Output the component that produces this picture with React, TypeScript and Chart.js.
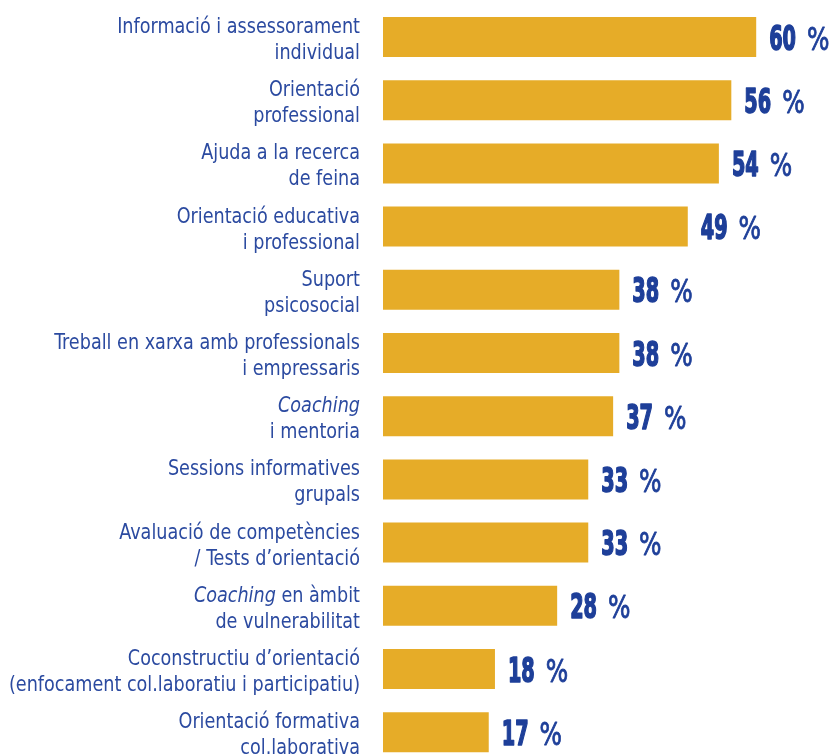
import { useEffect, useRef } from "react";
import { Chart, registerables } from "chart.js";

Chart.register(...registerables);

// Category labels (top to bottom); text between underscores is italic
const categories: string[][] = [
  ["Informació i assessorament", "individual"],
  ["Orientació", "professional"],
  ["Ajuda a la recerca", "de feina"],
  ["Orientació educativa", "i professional"],
  ["Suport", "psicosocial"],
  ["Treball en xarxa amb professionals", "i empressaris"],
  ["_Coaching_", "i mentoria"],
  ["Sessions informatives", "grupals"],
  ["Avaluació de competències", "/ Tests d’orientació"],
  ["_Coaching_ en àmbit", "de vulnerabilitat"],
  ["Coconstructiu d’orientació", "(enfocament col.laboratiu i participatiu)"],
  ["Orientació formativa", "col.laborativa"],
];

const values: number[] = [60, 56, 54, 49, 38, 38, 37, 33, 33, 28, 18, 17];
const valueSuffix = "%";

const BAR_COLOR = "#E6AC28";
const LABEL_COLOR = "#2B4AA0";
const VALUE_COLOR = "#1E3F99";
const NARROW = '"DejaVu Sans Condensed", "Liberation Sans Narrow", sans-serif';
const LABEL_SX = 0.89;
const VALUE_SX = 0.63;
const PCT_SX = 0.82;

function parseSegments(line: string) {
  const parts = line.split("_");
  return parts
    .map((t, i) => ({ text: t, italic: i % 2 === 1 }))
    .filter((s) => s.text.length > 0);
}

const richLabels = {
  id: "richLabels",
  afterDatasetsDraw(chart: any) {
    const ctx: CanvasRenderingContext2D = chart.ctx;
    const yScale = chart.scales.y;
    const meta = chart.getDatasetMeta(0);
    const right = chart.chartArea.left - 23;
    ctx.save();
    ctx.textBaseline = "alphabetic";
    ctx.textAlign = "left";
    categories.forEach((lines, i) => {
      const cy = yScale.getPixelForValue(i);
      lines.forEach((line, li) => {
        const baseline = cy + (li === 0 ? -4 : 22);
        const segs = parseSegments(line).map((s) => {
          ctx.font = `${s.italic ? "italic " : ""}22px ${NARROW}`;
          return { ...s, w: ctx.measureText(s.text).width };
        });
        const total = segs.reduce((a, s) => a + s.w, 0);
        ctx.save();
        ctx.translate(right - total * LABEL_SX, baseline);
        ctx.scale(LABEL_SX, 1);
        ctx.fillStyle = LABEL_COLOR;
        let x = 0;
        segs.forEach((s) => {
          ctx.font = `${s.italic ? "italic " : ""}22px ${NARROW}`;
          ctx.fillText(s.text, x, 0);
          x += s.w;
        });
        ctx.restore();
      });
      // value label
      const bar = meta.data[i];
      const vx = bar.x + 13;
      const vb = cy + 12.5;
      const num = String(values[i]);
      ctx.fillStyle = VALUE_COLOR;
      ctx.strokeStyle = VALUE_COLOR;
      ctx.lineJoin = "round";
      ctx.save();
      ctx.translate(vx, vb);
      ctx.scale(VALUE_SX, 1);
      ctx.lineWidth = 1.6;
      ctx.font = `bold 34px ${NARROW}`;
      ctx.fillText(num, 0, 0);
      ctx.strokeText(num, 0, 0);
      const nw = ctx.measureText(num).width * VALUE_SX;
      ctx.restore();
      ctx.save();
      ctx.translate(vx + nw + 11, vb);
      ctx.scale(PCT_SX, 1);
      ctx.lineWidth = 0.8;
      ctx.font = `32px ${NARROW}`;
      ctx.fillText(valueSuffix, 0, 0);
      ctx.strokeText(valueSuffix, 0, 0);
      ctx.restore();
    });
    ctx.restore();
  },
};

export default function App() {
  const ref = useRef<HTMLCanvasElement | null>(null);
  useEffect(() => {
    document.body.style.margin = "0";
    if (!ref.current) return;
    const chart = new Chart(ref.current, {
      type: "bar",
      data: {
        labels: categories.map((c) => c.join(" ")),
        datasets: [
          {
            data: values,
            backgroundColor: BAR_COLOR,
            borderWidth: 0,
            barPercentage: 1,
            categoryPercentage: 0.633,
          },
        ],
      },
      options: {
        indexAxis: "y",
        animation: false,
        responsive: false,
        maintainAspectRatio: false,
        devicePixelRatio: 1,
        layout: { padding: { left: 383, right: 15.6, top: 5.4, bottom: 6.2 } },
        plugins: { legend: { display: false }, tooltip: { enabled: false }, title: { display: false } },
        scales: {
          x: { display: false, min: 0, max: 70 },
          y: { display: false },
        },
      },
      plugins: [richLabels],
    });
    return () => chart.destroy();
  }, []);
  return (
    <div style={{ position: "absolute", left: 0, top: 0, width: 834, height: 755, overflow: "hidden", background: "#fff" }}>
      <canvas ref={ref} width={834} height={770} style={{ display: "block", width: 834, height: 770 }} />
    </div>
  );
}
